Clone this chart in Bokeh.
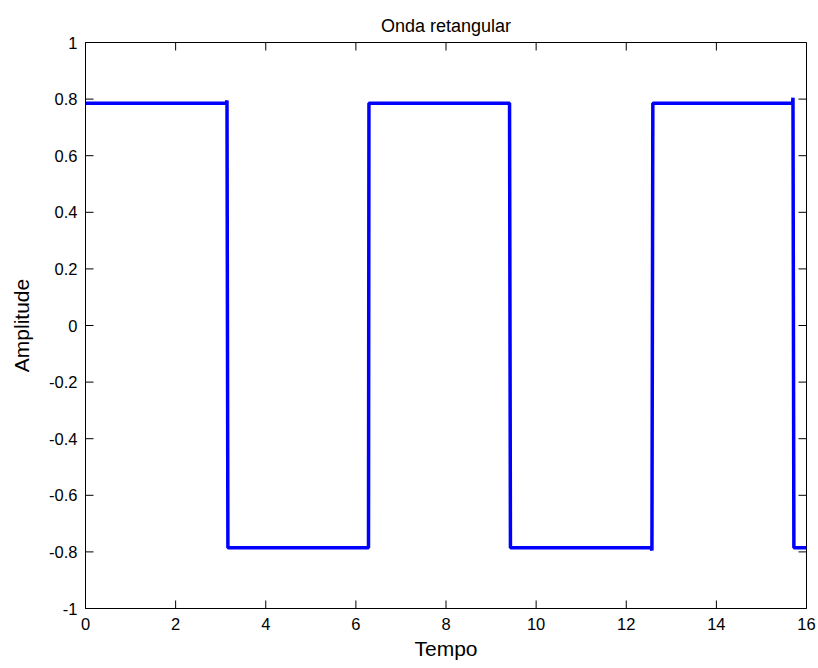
import math
from bokeh.plotting import figure
from bokeh.models import FixedTicker, Range1d
from bokeh.embed import file_html
from bokeh.resources import INLINE

# Data (square wave, amplitude ~pi/4, period ~2*pi)
tempo = [0.0, 3.12, 3.14, 3.15, 3.16, 6.28, 6.29, 9.41, 9.43, 12.55, 12.57, 12.58, 12.59, 15.69, 15.70, 15.71, 15.72, 16.0]
amplitude = [0.785, 0.785, 0.795, 0.0, -0.785, -0.785, 0.785, 0.785, -0.785, -0.785, -0.795, 0.0, 0.785, 0.785, 0.805, 0.0, -0.785, -0.785]

x_ticks = [0, 2, 4, 6, 8, 10, 12, 14, 16]
x_tick_labels = ["0", "2", "4", "6", "8", "10", "12", "14", "16"]
y_ticks = [-1, -0.8, -0.6, -0.4, -0.2, 0, 0.2, 0.4, 0.6, 0.8, 1]
y_tick_labels = ["-1", "-0.8", "-0.6", "-0.4", "-0.2", "0", "0.2", "0.4", "0.6", "0.8", "1"]

x_min, x_max = 0, 16
y_min, y_max = -1, 1

FONT = "Liberation Sans"

p = figure(width=818, height=668, output_backend="svg", toolbar_location=None,
           x_range=Range1d(x_min, x_max), y_range=Range1d(y_min, y_max),
           min_border_left=85, min_border_right=12, min_border_top=42, min_border_bottom=60,
           title="Onda retangular", x_axis_label="Tempo", y_axis_label="Amplitude")

p.background_fill_color = "white"
p.border_fill_color = "white"
p.grid.visible = False
p.outline_line_color = "black"
p.outline_line_width = 1

p.title.align = "center"
p.title.text_font = FONT
p.title.text_font_size = "18px"
p.title.text_font_style = "normal"
p.title.text_color = "black"
p.title.offset = 0
p.title.standoff = 13

# inward tick marks on all four sides (clipped by the frame, so only the inner half shows)
TICK = 16
p.scatter([x_min] * len(y_ticks), y_ticks, marker="dash", size=TICK, line_color="black", line_width=1)
p.scatter([x_max] * len(y_ticks), y_ticks, marker="dash", size=TICK, line_color="black", line_width=1)
p.scatter(x_ticks, [y_min] * len(x_ticks), marker="dash", size=TICK, angle=math.pi / 2, line_color="black", line_width=1)
p.scatter(x_ticks, [y_max] * len(x_ticks), marker="dash", size=TICK, angle=math.pi / 2, line_color="black", line_width=1)

p.line(tempo, amplitude, line_color="#0000FF", line_width=3.5)

p.xaxis.ticker = FixedTicker(ticks=x_ticks)
p.xaxis.major_label_overrides = {t: l for t, l in zip(x_ticks, x_tick_labels)}
p.yaxis.ticker = FixedTicker(ticks=y_ticks)
p.yaxis.major_label_overrides = {t: l for t, l in zip(y_ticks, y_tick_labels)}

for ax in p.xaxis + p.yaxis:
    ax.major_tick_in = 0
    ax.major_tick_out = 0
    ax.minor_tick_line_color = None
    ax.axis_line_color = "black"
    ax.major_label_text_font = FONT
    ax.major_label_text_font_size = "16.5px"
    ax.major_label_text_color = "black"
    ax.axis_label_text_font = FONT
    ax.axis_label_text_font_size = "21px"
    ax.axis_label_text_font_style = "normal"
    ax.axis_label_text_color = "black"

p.xaxis.major_label_standoff = 9
p.xaxis.axis_label_standoff = 4
p.yaxis.major_label_standoff = 8
p.yaxis.axis_label_standoff = 13

open("out.html", "w").write(file_html(p, INLINE))
